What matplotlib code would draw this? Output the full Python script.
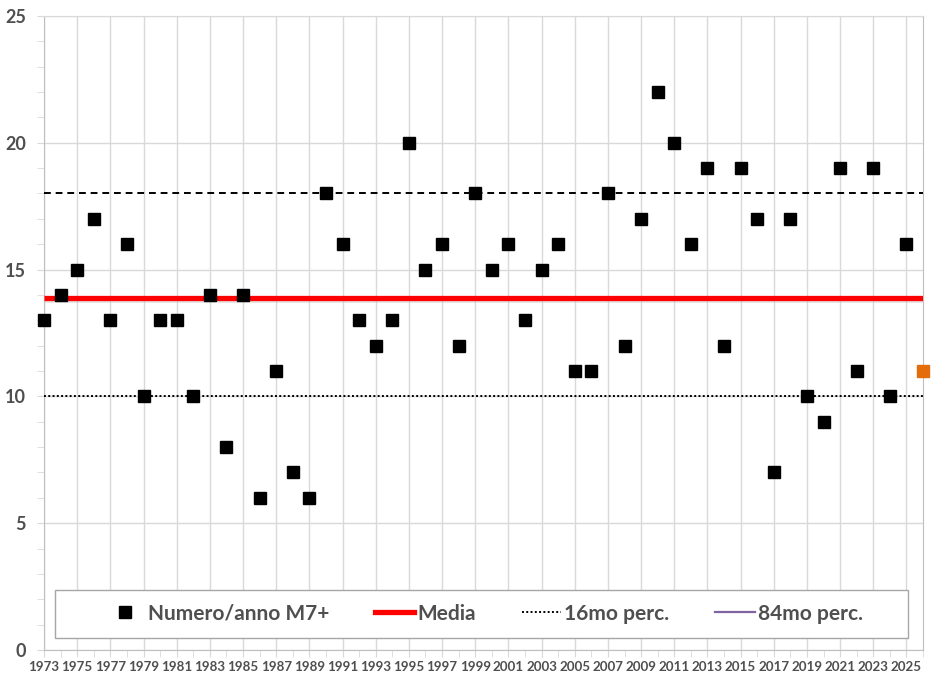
import matplotlib.pyplot as plt
from matplotlib.lines import Line2D
from matplotlib.patches import Rectangle

# M7+ earthquakes per year
years = list(range(1973, 2026))
counts = [13, 14, 15, 17, 13, 16, 10, 13, 13, 10,
          14, 8, 14, 6, 11, 7, 6, 18, 16, 13,
          12, 13, 20, 15, 16, 12, 18, 15, 16, 13,
          15, 16, 11, 11, 18, 12, 17, 22, 20, 16,
          19, 12, 19, 17, 7, 17, 10, 9, 19, 11,
          19, 10, 16]
partial_year = [2026]
partial_count = [11]

media = 13.87
perc16 = 10
perc84 = 18

x_start, x_end = 1973, 2026
xtick_years = list(range(1973, 2026, 2))

grey = '#4F4F4F'
grid_c = '#D9D9D9'
font = ['Lato', 'DejaVu Sans']
plt.rcParams['font.family'] = font

fig = plt.figure(figsize=(9.4, 6.84), dpi=100)
ax = fig.add_axes([0.0468, 0.0497, 0.9352, 0.927])

ax.set_xlim(x_start, x_end)
ax.set_ylim(0, 25)

# reference lines
ax.hlines(media, x_start, x_end, color='#FF0000', lw=3.8, zorder=3)
ax.hlines(media - 0.12, x_start, x_end, color='#BBBBBB', lw=2, alpha=0.4, zorder=2)
ax.hlines(perc84, x_start, x_end, color='black', lw=1.4, linestyles=(0, (3.5, 2.5)), zorder=3)
ax.hlines(perc16, x_start, x_end, color='black', lw=1.4, linestyles=(0, (1, 1.2)), zorder=3)

# data points
ax.plot(years, counts, 's', color='black', ms=8, zorder=4, clip_on=False)
ax.plot(partial_year, partial_count, 's', color='#E46C0A', ms=8, zorder=4, clip_on=False)

# axes styling
ax.set_xticks(xtick_years)
ax.set_xticks(years + partial_year, minor=True)
ax.set_xticklabels([str(y) for y in xtick_years], fontsize=9.6, fontweight='bold', color=grey)
ax.set_yticks([0, 5, 10, 15, 20, 25])
ax.set_yticks(range(0, 26), minor=True)
ax.set_yticklabels(['0', '5', '10', '15', '20', '25'], fontsize=13, fontweight='bold', color=grey)
ax.tick_params(axis='x', which='both', length=5, color=grid_c, pad=3)
ax.tick_params(axis='y', which='both', length=5, color=grid_c, pad=8)

ax.grid(axis='x', which='major', color=grid_c, lw=1)
ax.grid(axis='y', which='major', color=grid_c, lw=1)
ax.set_axisbelow(True)
for side in ['left', 'bottom', 'right']:
    ax.spines[side].set_color('#BFBFBF')
ax.spines['top'].set_color(grid_c)

# legend box
box = Rectangle((0.0125, 0.019), 0.97, 0.0757, transform=ax.transAxes,
                facecolor='white', edgecolor='#A6A6A6', lw=1, zorder=5)
ax.add_patch(box)

handles = [
    Line2D([], [], marker='s', color='black', ls='none', ms=8),
    Line2D([], [], color='#FF0000', lw=3.8),
    Line2D([], [], color='black', lw=1.4, ls=(0, (1, 1.2))),
    Line2D([], [], color='#8064A2', lw=1.6),
]
labels = ['Numero/anno M7+', 'Media', '16mo perc.', '84mo perc.']
leg = ax.legend(handles, labels, loc='center', bbox_to_anchor=(0.5005, 0.0575),
                ncol=4, frameon=False,
                prop={'family': font, 'weight': 'bold', 'size': 15}, labelcolor=grey,
                handlelength=1.9, handletextpad=0.15, columnspacing=2.2, borderaxespad=0)
leg.set_zorder(6)

fig.savefig('out.png', dpi=100, facecolor='white')
